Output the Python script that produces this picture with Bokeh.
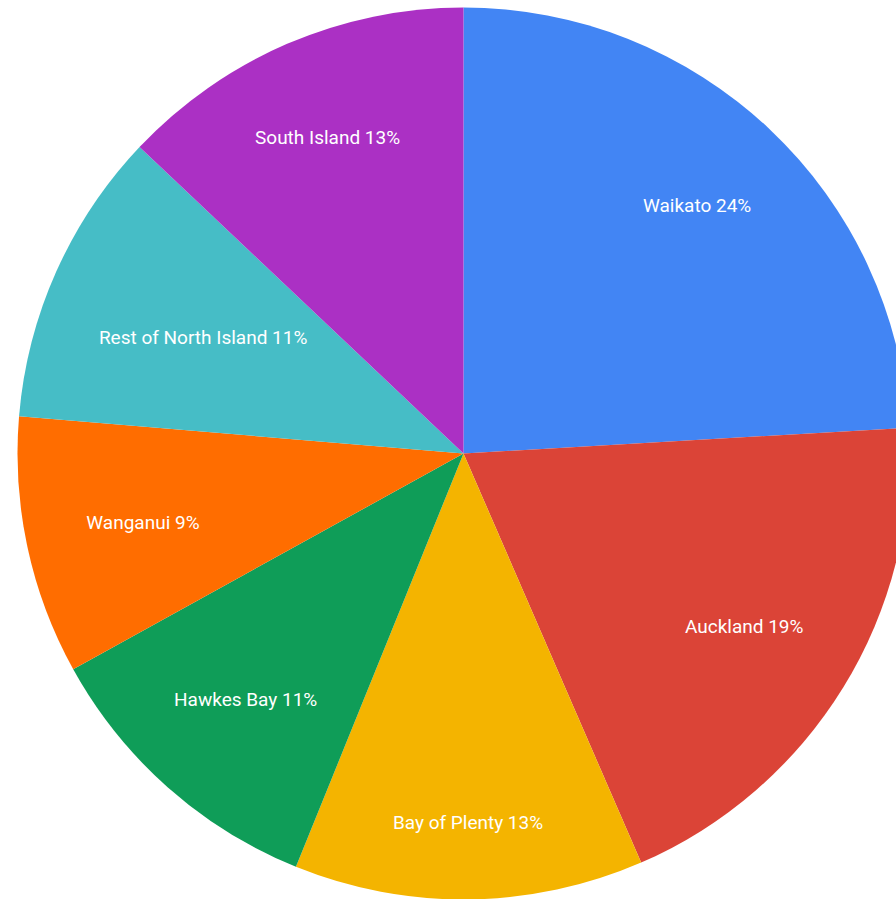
import math
from bokeh.plotting import figure
from bokeh.models import Range1d, ColumnDataSource
from bokeh.core.properties import value
from bokeh.embed import file_html
from bokeh.resources import INLINE

# ---- data ----
regions = ["Waikato", "Auckland", "Bay of Plenty", "Hawkes Bay",
           "Wanganui", "Rest of North Island", "South Island"]
shares = [24.08, 19.40, 12.65, 10.83, 9.37, 10.73, 12.94]
palette = ["#4285F4", "#DB4437", "#F4B400", "#0F9D58",
           "#FF6D00", "#46BDC6", "#AB30C4"]

W, H = 896, 899
CX, CY, R = 463, H - 453, 446
FONT_PX = 19
LABEL_R = 385

# approximate Roboto advance widths (em)
ADV = {' ': 0.248, '%': 0.733, '1': 0.561, '2': 0.561, '3': 0.561, '4': 0.561, '9': 0.561,
       'A': 0.652, 'B': 0.622, 'H': 0.713, 'I': 0.272, 'N': 0.713, 'P': 0.631, 'R': 0.616,
       'S': 0.593, 'W': 0.887, 'a': 0.543, 'c': 0.523, 'd': 0.563, 'e': 0.529, 'f': 0.348,
       'h': 0.551, 'i': 0.243, 'k': 0.507, 'l': 0.243, 'n': 0.552, 'o': 0.570, 'r': 0.339,
       's': 0.516, 't': 0.327, 'u': 0.551, 'w': 0.751, 'y': 0.474, 'g': 0.561, 'v': 0.484,
       'b': 0.561, 'p': 0.561}


def text_width(s):
    return sum(ADV.get(ch, 0.55) for ch in s) * FONT_PX


total = sum(shares)
starts, ends, lx, ly, labels = [], [], [], [], []
cum = 0.0
for name, v in zip(regions, shares):
    f0 = cum / total
    cum += v
    f1 = cum / total
    starts.append(math.pi / 2 - 2 * math.pi * f0)
    ends.append(math.pi / 2 - 2 * math.pi * f1)
    lab = f"{name} {round(v / total * 100)}%"
    labels.append(lab)
    th = 2 * math.pi * (f0 + f1) / 2
    sx, sy = math.sin(th), math.cos(th)
    a = math.copysign(text_width(lab) / 2, sx)
    b = math.copysign(8, sy)
    k = sx * a + sy * b
    t = -k + math.sqrt(k * k - (a * a + b * b - LABEL_R ** 2))
    lx.append(CX + t * sx)
    ly.append(CY + t * sy)

src = ColumnDataSource(dict(start=starts, end=ends, color=palette,
                            x=[CX] * len(regions), y=[CY] * len(regions)))
lsrc = ColumnDataSource(dict(x=lx, y=ly, text=labels))

p = figure(width=W, height=H, output_backend="svg", toolbar_location=None,
           x_range=Range1d(0, W), y_range=Range1d(0, H), min_border=0)
p.axis.visible = False
p.grid.visible = False
p.outline_line_color = None
p.background_fill_color = "white"
p.border_fill_color = "white"

p.wedge(x="x", y="y", radius=R, start_angle="start", end_angle="end",
        direction="clock", fill_color="color", line_color=None, source=src)
p.text(x="x", y="y", text="text", source=lsrc, text_align="center",
       text_baseline="middle", text_color="white",
       text_font=value("Roboto"), text_font_size=f"{FONT_PX}px")

open("out.html", "w").write(file_html(p, INLINE))
